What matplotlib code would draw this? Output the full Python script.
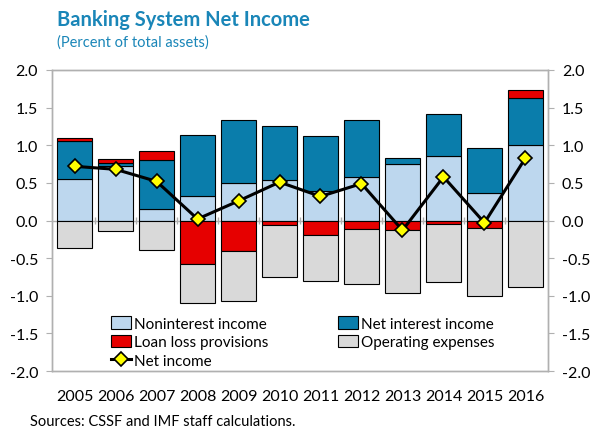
import numpy as np
import matplotlib
matplotlib.use("Agg")
import matplotlib.pyplot as plt

plt.rcParams['font.family'] = ['Lato', 'DejaVu Sans']

years = ['2005', '2006', '2007', '2008', '2009', '2010',
         '2011', '2012', '2013', '2014', '2015', '2016']
nonint_income = [0.55, 0.72, 0.15, 0.33, 0.50, 0.54, 0.39, 0.58, 0.75, 0.86, 0.36, 1.00]
net_int_income = [0.50, 0.05, 0.65, 0.80, 0.83, 0.72, 0.73, 0.76, 0.08, 0.55, 0.61, 0.63]
loan_loss = [0.04, 0.05, 0.12, -0.58, -0.41, -0.06, -0.19, -0.11, -0.13, -0.04, -0.10, 0.10]
op_expenses = [-0.37, -0.14, -0.39, -0.52, -0.66, -0.69, -0.61, -0.74, -0.83, -0.78, -0.90, -0.89]
net_income = [0.72, 0.68, 0.52, 0.02, 0.26, 0.51, 0.32, 0.49, -0.13, 0.58, -0.03, 0.83]

c_light = '#bdd7ee'
c_dark = '#0a7dab'
c_red = '#e60000'
c_gray = '#d9d9d9'
c_title = '#1a86b8'

x = np.arange(len(years))
nonint = np.array(nonint_income)
nii = np.array(net_int_income)
llp = np.array(loan_loss)
opex = np.array(op_expenses)

# loan loss provisions sit on top of income when positive, start at zero when negative
llp_bottom = np.where(llp > 0, nonint + nii, 0.0)
opex_bottom = np.where(llp < 0, llp, 0.0)

fig = plt.figure(figsize=(5.9, 4.35), dpi=100)
ax = fig.add_axes([52/590, 1 - 372/435, 496/590, 301/435])

w = 0.84
kw = dict(width=w, edgecolor='black', linewidth=0.8, zorder=2)
b1 = ax.bar(x, nonint, color=c_light, **kw)
b2 = ax.bar(x, nii, bottom=nonint, color=c_dark, **kw)
b3 = ax.bar(x, llp, bottom=llp_bottom, color=c_red, **kw)
b4 = ax.bar(x, opex, bottom=opex_bottom, color=c_gray, **kw)
ln, = ax.plot(x, net_income, color='black', linewidth=2.2, marker='D',
              markersize=7, markerfacecolor='#ffff00', markeredgecolor='black',
              markeredgewidth=1.2, zorder=4)

ax.axhline(0, color='#b0b0b0', linewidth=1, zorder=1)
ax.vlines(x[:-1] + 0.5, -0.05, 0.05, color='#b0b0b0', linewidth=1, zorder=1)

ax.set_xlim(-0.55, len(years) - 0.45)
ax.set_ylim(-2.0, 2.0)
ax.set_yticks(np.arange(-2.0, 2.01, 0.5))
ax.set_yticklabels(['%.1f' % v for v in np.arange(-2.0, 2.01, 0.5)], fontsize=11.5)
ax.set_xticks(x)
ax.set_xticklabels(years, fontsize=11.5)
ax.tick_params(axis='x', length=0, pad=13)
ax.tick_params(axis='y', length=4, color='#b0b0b0', direction='out', pad=6)

for s in ax.spines.values():
    s.set_color('#b0b0b0')
    s.set_linewidth(1)

ax2 = ax.twinx()
ax2.set_ylim(ax.get_ylim())
ax2.set_yticks(np.arange(-2.0, 2.01, 0.5))
ax2.set_yticklabels(['%.1f' % v for v in np.arange(-2.0, 2.01, 0.5)], fontsize=11.5)
ax2.tick_params(axis='y', length=4, color='#b0b0b0', direction='out', pad=6)
for s in ax2.spines.values():
    s.set_color('#b0b0b0')
    s.set_linewidth(1)

handles = [b1, b3, ln, b2, b4]
labels = ['Noninterest income', 'Loan loss provisions', 'Net income',
          'Net interest income', 'Operating expenses']
leg = ax.legend(handles, labels, ncol=2, loc='lower left',
                bbox_to_anchor=(0.1, -0.02), frameon=False, fontsize=11,
                handlelength=1.3, handleheight=0.9, handletextpad=0.2,
                columnspacing=4.6, labelspacing=0.25, borderaxespad=0.2)

fig.text(57/590, 1 - 20/435, 'Banking System Net Income', fontsize=14.5,
         fontweight='bold', color=c_title, va='center')
fig.text(57/590, 1 - 43/435, '(Percent of total assets)', fontsize=10.5,
         color=c_title, va='center')
fig.text(30/590, 1 - 422/435, 'Sources: CSSF and IMF staff calculations.',
         fontsize=10.5, va='center')

fig.savefig('out.png', dpi=100)
